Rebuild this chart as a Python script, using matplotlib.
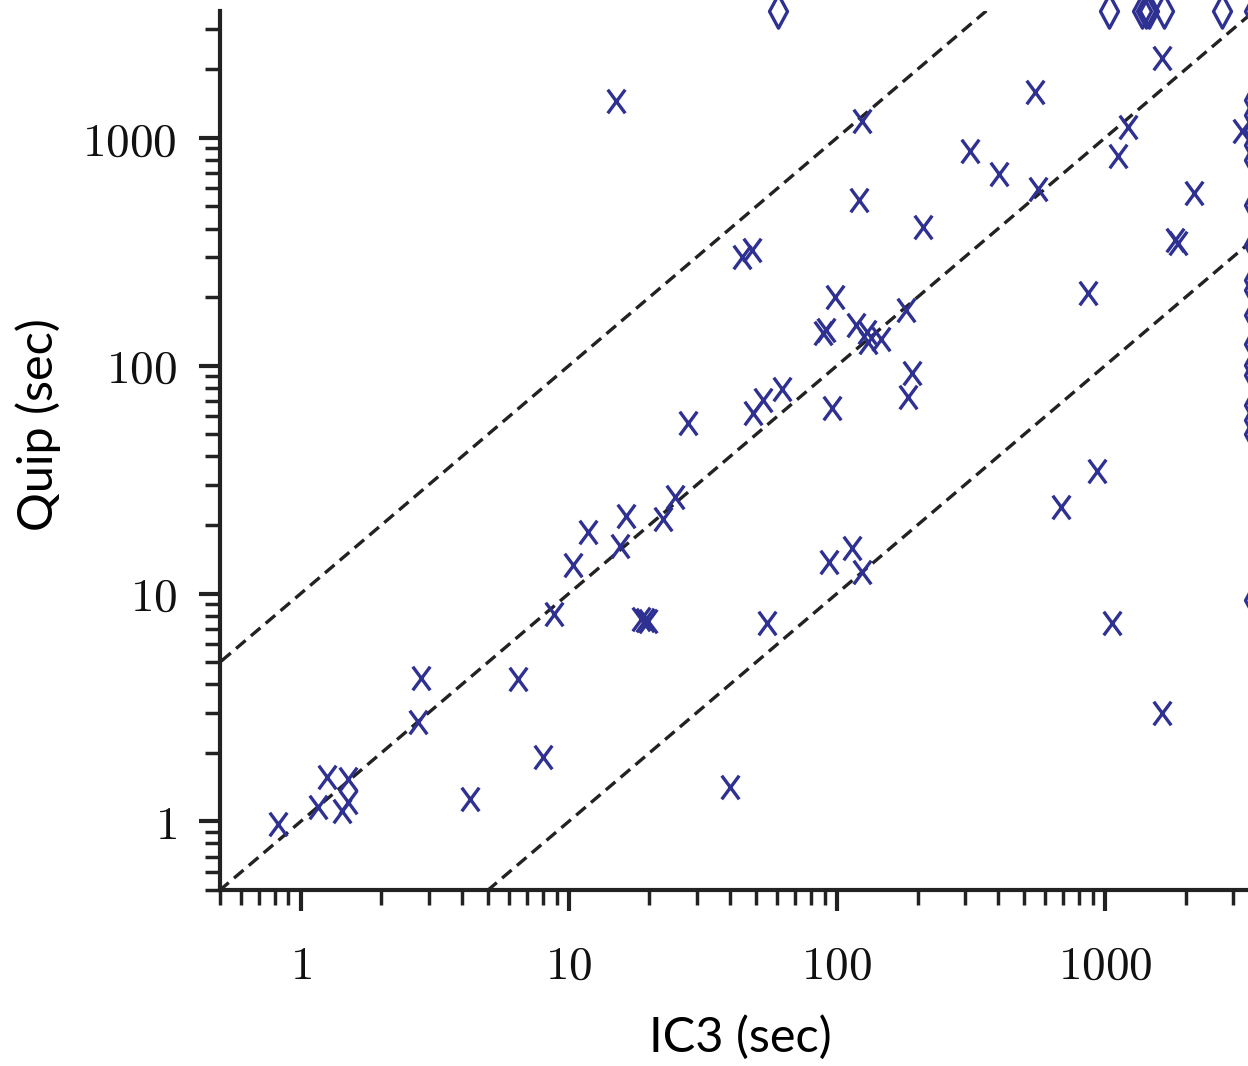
import matplotlib
matplotlib.use("Agg")
import matplotlib.pyplot as plt
import numpy as np
from matplotlib.path import Path
from matplotlib.ticker import LogLocator, NullFormatter

# solved instances: IC3 time vs Quip time (sec)
ic3_time = [0.82, 1.16, 1.25, 1.50, 1.50, 1.43, 2.80, 2.73, 4.27, 6.45, 8.0,
            8.8, 10.4, 11.8, 15.5, 16.3, 22.4, 24.9, 18.6, 19.2, 19.7, 54.8,
            39.9, 15.0, 27.8, 48.6, 52.9, 62.3, 44.2, 48.2, 95.8, 88.6, 91.0,
            98.3, 117.7, 129.4, 130.5, 145.9, 180.9, 190.5, 184.0, 120.8, 124.0,
            93.4, 113.7, 124.0, 209.4, 313.6, 402.0, 562.0, 548.0, 1118.0,
            1218.0, 1632.0, 2148.0, 1824.0, 1872.0, 864.0, 933.0, 685.0,
            1062.0, 1632.0, 3245.0]
quip_time = [0.97, 1.16, 1.56, 1.53, 1.22, 1.11, 4.28, 2.72, 1.25, 4.20, 1.91,
             8.1, 13.3, 18.7, 16.2, 22.0, 21.3, 26.6, 7.7, 7.65, 7.6, 7.4,
             1.42, 1452.0, 56.2, 62.2, 71.0, 79.3, 301.0, 323.0, 65.4, 139.5,
             144.0, 200.8, 151.4, 141.0, 127.4, 131.3, 176.0, 93.2, 73.1, 535.0,
             1187.0, 13.8, 15.8, 12.4, 407.0, 877.0, 695.0, 598.0, 1591.0,
             834.0, 1117.0, 2243.0, 574.0, 357.0, 346.0, 209.0, 34.6, 24.1,
             7.46, 2.98, 1072.0]

# timeouts (3600 s)
timeout = 3600
quip_timeout_ic3 = [60.2, 1035.0, 1380.0, 1420.0, 1460.0, 1660.0, 2735.0]
ic3_timeout_quip = [3600.0, 1468.0, 1261.0, 1084.0, 932.0, 801.0, 509.0, 339.0,
                    239.0, 215.0, 167.0, 124.0, 101.0, 91.0, 67.0, 58.0, 50.0,
                    9.4]

ratios = [10, 1, 0.1]
ticks = [1, 10, 100, 1000]
tick_labels = ["$1$", "$10$", "$100$", "$1000$"]

blue = "#2e3192"
dark = "#222222"

plt.rcParams["mathtext.fontset"] = "cm"
plt.rcParams["lines.scale_dashes"] = False

# markers are taller than wide in the original
cross = Path([(-0.37, -0.5), (0.37, 0.5), (-0.37, 0.5), (0.37, -0.5)],
             [Path.MOVETO, Path.LINETO, Path.MOVETO, Path.LINETO])
diamond = Path([(0, -0.5), (0.27, 0), (0, 0.5), (-0.27, 0), (0, -0.5)],
               [Path.MOVETO, Path.LINETO, Path.LINETO, Path.LINETO, Path.CLOSEPOLY])

fig = plt.figure(figsize=(12.48, 10.66), dpi=100)
ax = fig.add_axes([0.1763, 0.1651, 0.8237, 0.8246])

xs = np.array([0.05, 1e5])
for r in ratios:
    ax.plot(xs, xs * r, color=dark, lw=2.4, dashes=(9, 5), zorder=1)

ax.plot(ic3_time, quip_time, ls="none", marker=cross, ms=17, mew=2.4,
        mec=blue, mfc="none", zorder=3)
ax.plot(quip_timeout_ic3, [timeout] * len(quip_timeout_ic3), ls="none",
        marker=diamond, ms=24, mew=2.4, mec=blue, mfc="none", clip_on=False,
        zorder=3)
ax.plot([timeout] * len(ic3_timeout_quip), ic3_timeout_quip, ls="none",
        marker=diamond, ms=24, mew=2.4, mec=blue, mfc="none", clip_on=False,
        zorder=3)

ax.set_xscale("log")
ax.set_yscale("log")
ax.set_xlim(0.5, 3417)
ax.set_ylim(0.5, 3606)

for axis in (ax.xaxis, ax.yaxis):
    axis.set_minor_locator(LogLocator(base=10, subs=np.arange(2, 10)))
    axis.set_minor_formatter(NullFormatter())
ax.set_xticks(ticks)
ax.set_xticklabels(tick_labels)
ax.set_yticks(ticks)
ax.set_yticklabels(tick_labels)

ax.tick_params(which="major", direction="out", length=15, width=3,
               color=dark, labelsize=34, labelcolor="#111111")
ax.tick_params(which="minor", direction="out", length=11, width=2.5,
               color=dark)
ax.tick_params(axis="x", which="major", pad=24)
ax.tick_params(axis="y", which="major", pad=16)

for side in ("top", "right"):
    ax.spines[side].set_visible(False)
for side in ("left", "bottom"):
    ax.spines[side].set_linewidth(3)
    ax.spines[side].set_color(dark)

fig.text(0.593, 0.006, "IC3 (sec)", fontsize=35, family="Lato",
         ha="center", va="bottom")
fig.text(0.012, 0.602, "Quip (sec)", fontsize=35, family="Lato",
         rotation=90, ha="left", va="center")

fig.savefig("out.png", dpi=100)
